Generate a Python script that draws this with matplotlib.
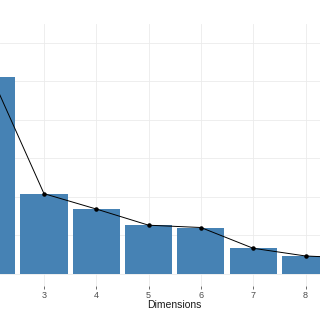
import matplotlib
matplotlib.use("Agg")
import matplotlib.pyplot as plt

# Scree plot values (percentage of explained variance per dimension)
dims = [1, 2, 3, 4, 5, 6, 7, 8, 9]
variance = [30.9, 25.6, 10.4, 8.4, 6.3, 6.0, 3.3, 2.3, 2.0]
tick_labels = ["1", "2", "3", "4", "5", "6", "7", "8", "9"]

plt.rcParams["font.family"] = ["Liberation Sans", "DejaVu Sans"]

fig = plt.figure(figsize=(3.2, 3.2), dpi=100)
# the panel runs off both sides of the picture (cropped original)
ax = fig.add_axes([0.0, 0.1075, 1.0, 0.8175])

ax.bar(dims, variance, width=0.9, color="#4682B4", zorder=2)
ax.plot(dims, variance, color="black", linewidth=0.7, zorder=3)
ax.scatter(dims, variance, color="black", s=5, zorder=4)

ax.set_xticks(dims)
ax.set_xticklabels(tick_labels)
ax.set_yticks([0, 5, 10, 15, 20, 25, 30])
# limits after the ticks, so set_xticks doesn't widen the view
ax.set_xlim(2.159, 8.277)
ax.set_ylim(-1.55, 32.45)

ax.tick_params(axis="y", left=False, labelleft=False)
ax.tick_params(axis="x", length=2.5, width=0.6, color="#555555",
               labelsize=6.5, labelcolor="#4D4D4D", pad=1.5)

ax.grid(True, color="#EBEBEB", linewidth=0.6, zorder=0)
ax.set_axisbelow(True)
for s in ax.spines.values():
    s.set_visible(False)

ax.set_xlabel("Dimensions", fontsize=7.5, color="#1A1A1A")
ax.xaxis.set_label_coords(174 / 320, -0.055)

fig.savefig("out.png", dpi=100)
